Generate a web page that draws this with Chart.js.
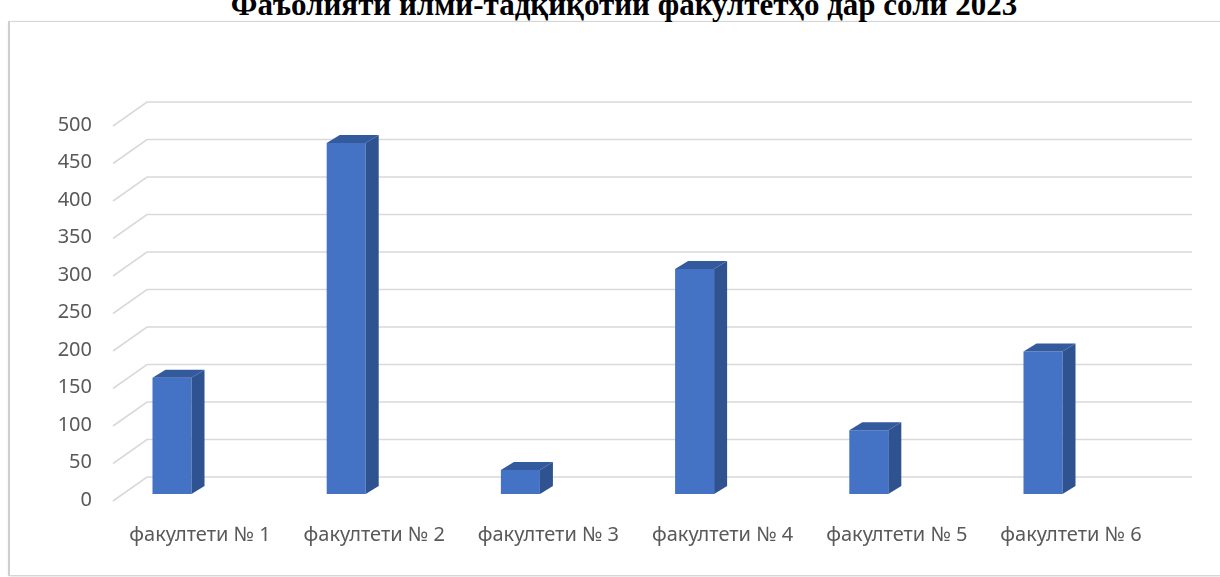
<!DOCTYPE html>
<html>
<head>
<meta charset="utf-8">
<script src="https://cdn.jsdelivr.net/npm/chart.js@4.4.0/dist/chart.umd.min.js"></script>
<style>
  html, body { margin: 0; padding: 0; background: #fff; overflow: hidden; }
  #wrap { position: relative; width: 1220px; height: 577px; overflow: hidden; }
  #frame { position: absolute; left: 8px; top: 21px; width: 1240px; height: 553px;
           border: 1px solid #d6d6d6; border-left: 2px solid #cfcfcf;
           box-shadow: 1px 1px 3px rgba(0,0,0,0.12); }
  #title { position: absolute; left: 0; top: -10px; width: 1248px; text-align: center;
           font: bold 31px "Liberation Serif", "Times New Roman", serif; line-height: 30px;
           color: #000; white-space: nowrap; }
  #facChart { position: absolute; left: 0; top: 0; }
</style>
</head>
<body>
<div id="wrap">
  <div id="frame"></div>
  <div id="title">Фаъолияти илмӣ-тадқиқотии факултетҳо дар соли 2023</div>
  <canvas id="facChart" width="1220" height="577"></canvas>
</div>
<script>
const faculties = ["факултети № 1", "факултети № 2", "факултети № 3", "факултети № 4", "факултети № 5", "факултети № 6"];
const works = [155, 468, 32, 300, 85, 190];
const yTicks = [0, 50, 100, 150, 200, 250, 300, 350, 400, 450, 500];

document.addEventListener("DOMContentLoaded", function() {

    // back wall lines + the slanted floor lines in front of them
    const wallGrid = {
        id: "wallGrid",
        beforeDatasetsDraw(chart) {
            const ctx = chart.ctx;
            const area = chart.chartArea;
            const yScale = chart.scales.y;
            ctx.save();
            ctx.strokeStyle = "#d9d9d9";
            ctx.lineWidth = 1.6;
            yTicks.forEach(v => {
                const py = yScale.getPixelForValue(v);
                ctx.beginPath();
                ctx.moveTo(area.left - 59, py + 7);
                ctx.lineTo(area.left - 25, py - 17);
                ctx.lineTo(area.right + 149, py - 17);
                ctx.stroke();
            });
            ctx.restore();
        }
    };

    // fake 3d: side and top faces of every column
    const barDepth = {
        id: "barDepth",
        afterDatasetsDraw(chart) {
            const ctx = chart.ctx;
            const dx = 13, dy = 8;
            ctx.save();
            chart.getDatasetMeta(0).data.forEach(bar => {
                const p = bar.getProps(["x", "y", "base", "width"], true);
                const l = p.x - p.width / 2, r = p.x + p.width / 2;
                ctx.fillStyle = "#2f5290";
                ctx.beginPath();
                ctx.moveTo(r, p.y);
                ctx.lineTo(r + dx, p.y - dy);
                ctx.lineTo(r + dx, p.base - dy);
                ctx.lineTo(r, p.base);
                ctx.closePath();
                ctx.fill();
                ctx.fillStyle = "#345a9e";
                ctx.beginPath();
                ctx.moveTo(l, p.y);
                ctx.lineTo(l + dx, p.y - dy);
                ctx.lineTo(r + dx, p.y - dy);
                ctx.lineTo(r, p.y);
                ctx.closePath();
                ctx.fill();
            });
            ctx.restore();
        }
    };

    const ctx = document.getElementById("facChart").getContext("2d");
    const facChart = new Chart(ctx, {
        type: "bar",
        data: {
            labels: faculties,
            datasets: [{
                data: works,
                backgroundColor: "#4472c4",
                borderWidth: 0,
                categoryPercentage: 1,
                barPercentage: 0.224,
                clip: false
            }]
        },
        options: {
            responsive: false,
            animation: false,
            layout: { padding: { top: 119, right: 177, bottom: 0, left: 0 } },
            plugins: { legend: { display: false }, tooltip: { enabled: false }, title: { display: false } },
            scales: {
                x: {
                    offset: false,
                    grid: { display: false, drawTicks: false },
                    border: { display: false },
                    ticks: {
                        color: "#595959",
                        font: { family: "Noto Sans", size: 20 },
                        padding: 29,
                        labelOffset: 28,
                        maxRotation: 0,
                        autoSkip: false
                    },
                    afterFit: scale => { scale.height = 83; }
                },
                y: {
                    min: 0,
                    max: 500,
                    grid: { display: false, drawTicks: false },
                    border: { display: false },
                    afterBuildTicks: scale => { scale.ticks = yTicks.map(v => ({ value: v })); },
                    ticks: {
                        color: "#595959",
                        font: { family: "Noto Sans", size: 20 },
                        padding: 80,
                        labelOffset: 6
                    },
                    afterFit: scale => {
                        scale.width = 172;
                        scale.paddingTop = 12;
                        scale.paddingBottom = 12;
                    }
                }
            }
        },
        plugins: [wallGrid, barDepth]
    });
});
</script>
</body>
</html>
